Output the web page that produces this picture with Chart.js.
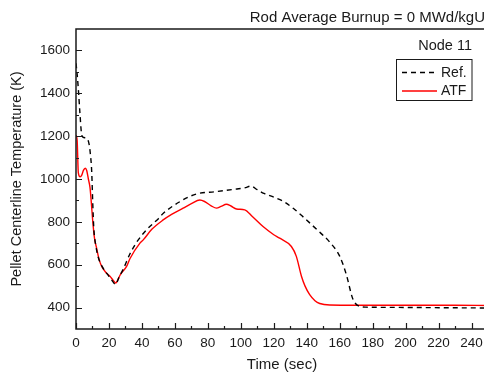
<!DOCTYPE html>
<html>
<head>
<meta charset="utf-8">
<script src="https://cdn.jsdelivr.net/npm/chart.js@4"></script>
<style>
  html, body { margin: 0; padding: 0; background: #fff; overflow: hidden; }
  #wrap { width: 500px; height: 374px; }
</style>
</head>
<body>
<div id="wrap"><canvas id="chart" width="500" height="374"></canvas></div>
<script>
const chartTitle = 'Rod Average Burnup = 0 MWd/kgU';
const nodeLabel = 'Node 11';
const xTitle = 'Time (sec)';
const yTitle = 'Pellet Centerline Temperature (K)';

const xTicks = [0, 20, 40, 60, 80, 100, 120, 140, 160, 180, 200, 220, 240];
const yTicks = [400, 600, 800, 1000, 1200, 1400, 1600];

const refTime = [0, 0.8, 1.6, 2.4, 3.3, 4.2, 6.5, 8, 8.8, 9.5, 10.2, 10.8, 12, 13.5, 16, 19.6, 22, 24, 26, 28.7, 32.7, 36.8, 42.8, 50, 53, 63, 73, 85, 97, 103, 106, 110, 114, 120, 126, 132, 138, 146, 154, 160, 164, 168, 172, 176, 190, 210, 230, 250];
const refTemp = [1540, 1480, 1400, 1305, 1215, 1195, 1190, 1160, 1110, 1040, 880, 770, 690, 635, 590, 550, 525, 508, 540, 580, 650, 705, 763, 815, 840, 894, 930, 941, 953, 960, 967, 950, 933, 915, 895, 862, 822, 765, 705, 640, 555, 440, 406, 402, 401, 400, 399, 398];

const atfTime = [0, 0.7, 1.4, 2.5, 3.5, 4.5, 5.6, 6.5, 7.5, 8.5, 9.3, 10.1, 11.2, 12.5, 14, 15.6, 18, 20.6, 22.5, 24, 27, 30.7, 32.7, 38.8, 40.8, 46, 52.9, 58, 65, 70, 75.2, 78, 82, 85.3, 88, 91.3, 94, 97.4, 102.4, 107, 113.5, 120, 123.6, 130.7, 133.7, 136.8, 139, 141.8, 145, 147.9, 154, 170, 200, 230, 250];
const atfTemp = [1205, 1180, 1030, 1010, 1018, 1040, 1050, 1040, 1000, 960, 890, 809, 725, 677, 625, 592, 565, 546, 528, 515, 555, 592, 628, 701, 716, 765, 809, 835, 864, 885, 902, 895, 875, 864, 872, 882, 874, 860, 856, 825, 778, 740, 724, 685, 639, 546, 500, 460, 432, 419, 412, 411, 411, 411, 410];

const FONT = '"Liberation Sans", Arial, sans-serif';
const INK = '#1a1a1a';

function toPoints(xs, ys) {
  return xs.map((x, i) => ({ x, y: ys[i] }));
}

// frame, inward ticks, titles and the boxed legend
const decorations = {
  id: 'decorations',
  afterDraw(chart) {
    const { ctx, chartArea: a, scales: { x, y } } = chart;
    ctx.save();
    ctx.strokeStyle = INK;
    ctx.lineWidth = 1.5;
    ctx.strokeRect(a.left, a.top, a.right - a.left, a.bottom - a.top);

    ctx.lineWidth = 1.2;
    ctx.beginPath();
    for (let t = 0; t <= 250; t += 10) {
      const px = Math.round(x.getPixelForValue(t)) + 0.5;
      const len = t % 20 === 0 ? 6 : 3;
      ctx.moveTo(px, a.bottom);
      ctx.lineTo(px, a.bottom - len);
    }
    for (let v = 400; v <= 1600; v += 100) {
      const py = Math.round(y.getPixelForValue(v)) + 0.5;
      const len = v % 200 === 0 ? 6 : 3;
      ctx.moveTo(a.left, py);
      ctx.lineTo(a.left + len, py);
    }
    ctx.stroke();

    ctx.fillStyle = INK;
    ctx.font = '15px ' + FONT;
    ctx.textAlign = 'right';
    ctx.textBaseline = 'middle';
    ctx.fillText(chartTitle, 485, 18);

    ctx.font = '14.5px ' + FONT;
    ctx.fillText(nodeLabel, 472, 46);

    ctx.textAlign = 'center';
    ctx.font = '15px ' + FONT;
    ctx.fillText(xTitle, (a.left + a.right) / 2, 365);

    ctx.save();
    ctx.translate(17, (a.top + a.bottom) / 2);
    ctx.rotate(-Math.PI / 2);
    ctx.font = '14.5px ' + FONT;
    ctx.fillText(yTitle, 0, 0);
    ctx.restore();

    // legend box
    ctx.lineWidth = 1;
    ctx.strokeStyle = INK;
    ctx.strokeRect(396.5, 59.5, 75.5, 41);
    const rows = [72.5, 91];
    chart.data.datasets.forEach((ds, i) => {
      const yy = rows[i];
      ctx.save();
      ctx.strokeStyle = ds.borderColor;
      ctx.lineWidth = ds.borderWidth;
      ctx.setLineDash(ds.borderDash || []);
      ctx.beginPath();
      ctx.moveTo(402, yy);
      ctx.lineTo(437, yy);
      ctx.stroke();
      ctx.restore();
      ctx.fillStyle = INK;
      ctx.font = '14px ' + FONT;
      ctx.textAlign = 'left';
      ctx.fillText(ds.label, 441, yy + 0.5);
    });
    ctx.restore();
  }
};

new Chart(document.getElementById('chart'), {
  type: 'line',
  data: {
    datasets: [
      {
        label: 'Ref.',
        data: toPoints(refTime, refTemp),
        borderColor: '#000000',
        borderWidth: 1.4,
        borderDash: [5, 4],
        pointRadius: 0,
        cubicInterpolationMode: 'monotone',
        fill: false
      },
      {
        label: 'ATF',
        data: toPoints(atfTime, atfTemp),
        borderColor: '#ff0000',
        borderWidth: 1.4,
        pointRadius: 0,
        cubicInterpolationMode: 'monotone',
        fill: false
      }
    ]
  },
  options: {
    responsive: false,
    animation: false,
    layout: { padding: { top: 29, right: 12, left: 0, bottom: 0 } },
    plugins: { legend: { display: false }, tooltip: { enabled: false }, title: { display: false } },
    scales: {
      x: {
        type: 'linear',
        min: 0,
        max: 250,
        grid: { display: false, drawTicks: false },
        border: { display: false },
        afterBuildTicks: s => { s.ticks = xTicks.map(v => ({ value: v })); },
        afterFit: s => { s.height = 45; },
        ticks: { color: INK, font: { family: FONT, size: 13.5 }, padding: 6, maxRotation: 0, autoSkip: false, callback: v => String(v) }
      },
      y: {
        min: 300,
        max: 1700,
        grid: { display: false, drawTicks: false },
        border: { display: false },
        afterBuildTicks: s => { s.ticks = yTicks.map(v => ({ value: v })); },
        afterFit: s => { s.width = 76; },
        ticks: { color: INK, font: { family: FONT, size: 13.5 }, padding: 6, callback: v => String(v) }
      }
    }
  },
  plugins: [decorations]
});
</script>
</body>
</html>
